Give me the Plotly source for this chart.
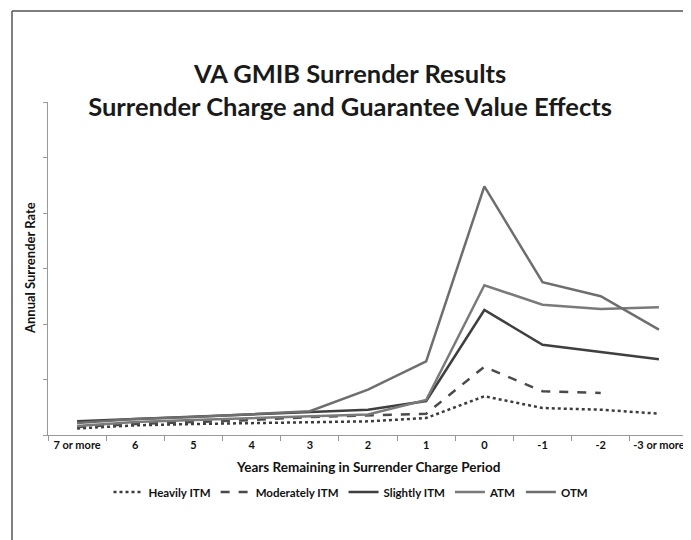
import plotly.graph_objects as go

# x categories (years remaining in surrender charge period)
years = ['7 or more', '6', '5', '4', '3', '2', '1', '0', '-1', '-2', '-3 or more']

# annual surrender rate (%)
heavily_itm = [0.59, 0.87, 0.99, 1.08, 1.17, 1.23, 1.53, 3.49, 2.43, 2.28, 1.92]
moderately_itm = [0.72, 0.99, 1.17, 1.35, 1.62, 1.74, 1.92, 6.15, 3.94, 3.78, None]
slightly_itm = [1.23, 1.44, 1.62, 1.83, 2.07, 2.28, 3.06, 11.26, 8.13, 7.48, 6.82]
atm = [0.81, 1.17, 1.35, 1.53, 1.68, 1.85, 3.15, 13.49, 11.74, 11.35, 11.5]
otm = [1.08, 1.44, 1.62, 1.85, 2.14, 4.08, 6.64, 22.4, 13.76, 12.5, 9.49]

series = [
	('Heavily ITM', heavily_itm, '#3c3c3c', 'dot'),
	('Moderately ITM', moderately_itm, '#4a4a4a', 'dash'),
	('Slightly ITM', slightly_itm, '#3f3f3f', 'solid'),
	('ATM', atm, '#7a7a7a', 'solid'),
	('OTM', otm, '#6e6e6e', 'solid'),
]

label_font = 'Lato, "Liberation Sans", sans-serif'

fig = go.Figure()
for name, values, colour, dash in series:
	fig.add_trace(go.Scatter(
		x = years,
		y = values,
		name = name,
		mode = 'lines',
		line = dict(color=colour, width=2.5, dash=dash),
		connectgaps = False,
	))

# plot area in pixels: x 40..680, y 94..427
def px(x):
	return (x-40)/640
def py(y):
	return (427-y)/333

fig.update_layout(
	width = 691,
	height = 540,
	margin = dict(l=40, r=11, t=94, b=113),
	paper_bgcolor = 'white',
	plot_bgcolor = 'white',
	title = dict(
		text = 'VA GMIB Surrender Results<br>Surrender Charge and Guarantee Value Effects',
		x = 0.495,
		xanchor = 'center',
		y = 1-75/540,
		yanchor = 'middle',
		font = dict(family=label_font, size=25.5, color='#1a1a1a', weight='bold'),
	),
	xaxis = dict(
		type = 'category',
		range = [-0.5, 10.5],
		tickson = 'boundaries',
		ticks = 'outside',
		ticklen = 5,
		tickcolor = '#999999',
		tickangle = 0,
		showline = True,
		linecolor = '#999999',
		linewidth = 1,
		showgrid = False,
		tickfont = dict(family=label_font, size=11, color='#111111', weight='bold'),
	),
	yaxis = dict(
		range = [0, 30],
		dtick = 5,
		ticks = 'outside',
		ticklen = 4,
		tickcolor = '#999999',
		showline = True,
		linecolor = '#999999',
		linewidth = 1,
		showgrid = False,
		zeroline = False,
		showticklabels = False,
	),
	legend = dict(
		orientation = 'h',
		x = px(343),
		xanchor = 'center',
		y = py(484),
		yanchor = 'middle',
		font = dict(family=label_font, size=11.5, color='#111111', weight='bold'),
		itemwidth = 30,
		tracegroupgap = 0,
	),
	annotations = [
		dict(
			text = '<b>Annual Surrender Rate</b>',
			xref = 'paper', yref = 'paper',
			x = px(22), y = py(260),
			xanchor = 'center', yanchor = 'middle',
			textangle = -90,
			showarrow = False,
			font = dict(family=label_font, size=13, color='#111111'),
		),
		dict(
			text = '<b>Years Remaining in Surrender Charge Period</b>',
			xref = 'paper', yref = 'paper',
			x = px(360), y = py(459),
			xanchor = 'center', yanchor = 'middle',
			showarrow = False,
			font = dict(family=label_font, size=13.5, color='#111111'),
		),
	],
	shapes = [
		dict(type='line', xref='paper', yref='paper', x0=px(4), x1=px(4), y0=py(3), y1=py(545), line=dict(color='#555555', width=1.5)),
		dict(type='line', xref='paper', yref='paper', x0=px(4), x1=px(689), y0=py(3), y1=py(3), line=dict(color='#555555', width=1.5)),
		dict(type='line', xref='paper', yref='paper', x0=px(689), x1=px(689), y0=py(3), y1=py(545), line=dict(color='#555555', width=1.5)),
	],
)

fig.write_html('out.html')
